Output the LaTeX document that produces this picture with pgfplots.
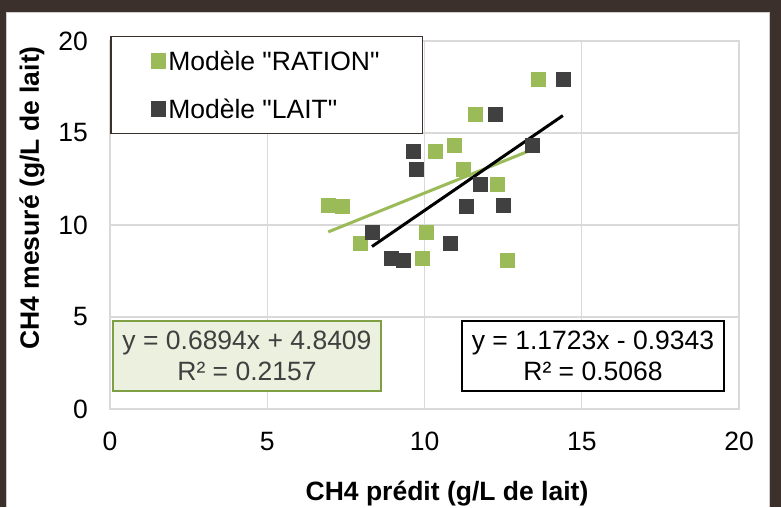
\documentclass[border=0pt]{standalone}
\usepackage{pgfplots}
\pgfplotsset{compat=1.18}
\usepackage{fontspec}
\setmainfont{Liberation Sans}[Ligatures=TeXOff]
\definecolor{ration}{HTML}{9BBB59}
\definecolor{lait}{HTML}{404040}
\definecolor{gridgray}{HTML}{D9D9D9}
\definecolor{framecol}{HTML}{3B302C}
\definecolor{eqfill}{HTML}{EBF1DE}
\definecolor{eqborder}{HTML}{7F9F45}
\newcommand{\bigf}{\fontsize{26.5}{31.7}\selectfont}
\begin{document}
\begin{tikzpicture}
\useasboundingbox (0,0) rectangle (781pt,507pt);
\fill[white] (0,0) rectangle (781pt,507pt);
\fill[framecol] (0,495pt) rectangle (781pt,507pt);
\fill[framecol] (0,0) rectangle (6pt,507pt);
\fill[framecol] (770pt,0) rectangle (781pt,507pt);
\draw[gray!40, line width=1pt] (6.5pt,0) -- (6.5pt,494.5pt) -- (769.5pt,494.5pt) -- (769.5pt,0);
\begin{axis}[
  at={(110pt,98pt)}, anchor=south west,
  scale only axis, width=629pt, height=368pt,
  xmin=0, xmax=20, ymin=0, ymax=20,
  xtick={0,5,10,15,20}, ytick={0,5,10,15,20},
  major tick length=0pt,
  grid=major,
  grid style={draw=gridgray, line width=1.3pt},
  axis line style={draw=gridgray, line width=1.3pt},
  /pgf/number format/assume math mode=true,
  ticklabel style={font=\bigf, text=black, inner sep=0pt},
  yticklabel style={xshift=-22pt},
  xticklabel style={yshift=-23pt},
  xlabel={\bfseries CH4 prédit (g/L de lait)},
  ylabel={\bfseries CH4 mesuré (g/L de lait)},
  every axis x label/.style={at={(axis description cs:0.5358,-0.2473)}, anchor=base, font=\bigf, inner sep=0pt},
  every axis y label/.style={at={(axis description cs:-0.1129,0.5734)}, anchor=base, rotate=90, font=\bigf, inner sep=0pt},
  legend cell align=left,
  legend style={at={(axis description cs:0,1.0136)}, anchor=north west,
    draw=framecol, line width=1.5pt, fill=white,
    inner xsep=0pt, inner ysep=1.5pt, row sep=2pt, column sep=2pt,
    nodes={inner sep=0pt, text depth=13.5pt}, font=\bigf},
  legend image code/.code={\draw[#1] plot coordinates {(0pt,0pt)}; \path (-47pt,0pt) (7pt,0pt);},
]
\addplot[only marks, mark=square*, mark size=7pt, color=ration] coordinates {
 (13.62,17.93) (11.60,16.03) (10.95,14.33) (10.35,14.02) (11.24,13.03) (12.30,12.21)
 (6.94,11.09) (7.38,11.03) (10.04,9.60) (7.94,9.00) (9.94,8.19) (12.62,8.10)
};
\addlegendentry{\makebox[254pt][l]{\rule[-13.5pt]{0pt}{46pt}Modèle "RATION"}}
\addplot[only marks, mark=square*, mark size=7pt, color=lait] coordinates {
 (14.40,17.93) (12.25,16.03) (13.43,14.33) (9.65,14.02) (9.75,13.03) (11.78,12.21)
 (12.51,11.09) (11.34,11.03) (8.33,9.60) (10.83,9.00) (8.95,8.19) (9.32,8.10)
};
\addlegendentry{\makebox[254pt][l]{\rule[-13.5pt]{0pt}{46pt}Modèle "LAIT"}}
\addplot[forget plot, color=ration, line width=3pt] coordinates {(6.94,9.6253) (13.62,14.2305)};
\addplot[forget plot, color=black, line width=3pt] coordinates {(8.33,8.831) (14.40,15.947)};
\node[draw=eqborder, line width=1.5pt, fill=eqfill, text=lait, align=center, font=\bigf,
  minimum width=268pt, minimum height=70pt, inner sep=0pt] at (axis cs:4.356,2.88)
  {y = 0.6894x + 4.8409\\R² = 0.2157};
\node[draw=black, line width=1.5pt, fill=white, text=black, align=center, font=\bigf,
  minimum width=262pt, minimum height=70pt, inner sep=0pt] at (axis cs:15.358,2.88)
  {y = 1.1723x - 0.9343\\R² = 0.5068};
\end{axis}
\end{tikzpicture}
\end{document}
